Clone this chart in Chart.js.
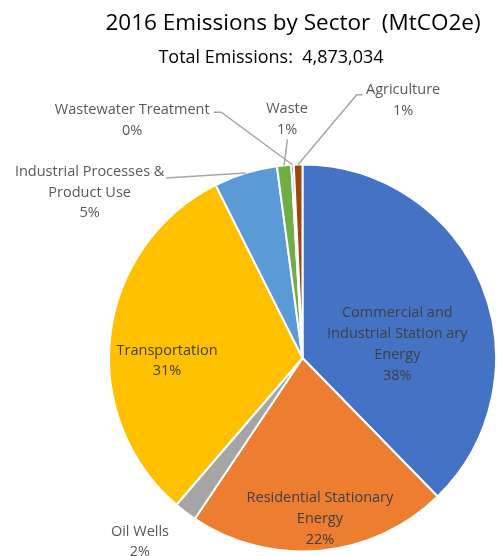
<!DOCTYPE html>
<html>
<head>
<meta charset="utf-8">
<script src="https://cdn.jsdelivr.net/npm/chart.js@4"></script>
<style>
  body { margin: 0; background: #fff; }
  canvas { display: block; }
</style>
</head>
<body>
<canvas id="pie" width="497" height="556"></canvas>
<script>
// data (MtCO2e)
const sectors = ['Commercial and Industrial Stationary Energy', 'Residential Stationary Energy', 'Oil Wells',
  'Transportation', 'Industrial Processes & Product Use', 'Waste', 'Wastewater Treatment', 'Agriculture'];
const emissions = [1837000, 1057000, 93000, 1525000, 258000, 58000, 10000, 35000];
const labelLines = [
  ['Commercial and', 'Industrial Station ary', 'Energy'],
  ['Residential Stationary', 'Energy'],
  ['Oil Wells'],
  ['Transportation'],
  ['Industrial Processes &', 'Product Use'],
  ['Waste'],
  ['Wastewater Treatment'],
  ['Agriculture']
];
const colors = ['#4472C4', '#ED7D31', '#A5A5A5', '#FFC000', '#5B9BD5', '#70AD47', '#264478', '#9E480E'];
const totalEmissions = 4873034;

const font = '"Open Sans", "Noto Sans", sans-serif';

// where each label sits, in units of the radius from the pie centre
const labelPos = [
  { dx: 0.49, dy: -0.07, inside: true },
  { dx: 0.09, dy: 0.83, inside: true },
  { dx: -0.84, dy: 0.95 },
  { dx: -0.70, dy: 0.015, inside: true },
  { dx: -1.10, dy: -0.855, lead: { x: -0.705, y: -0.93 } },
  { dx: -0.08, dy: -1.235, lead: { x: -0.078, y: -1.13 } },
  { dx: -0.88, dy: -1.23, lead: { x: -0.46, y: -1.27 }, elbow: 0.04 },
  { dx: 0.52, dy: -1.33, lead: { x: 0.31, y: -1.36 }, elbow: -0.03 }
];

const headerPlugin = {
  id: 'header',
  afterDraw(chart) {
    const ctx = chart.ctx;
    ctx.save();
    ctx.fillStyle = '#000';
    ctx.textAlign = 'center';
    ctx.textBaseline = 'middle';
    ctx.font = '22.5px ' + font;
    ctx.fillText('2016 Emissions by Sector  (MtCO2e)', 293, 24);
    ctx.font = '18px ' + font;
    ctx.fillText('Total Emissions:  ' + totalEmissions.toLocaleString('en-US'), 271, 58);
    ctx.restore();
  }
};

const sliceLabels = {
  id: 'sliceLabels',
  afterDatasetsDraw(chart) {
    const ctx = chart.ctx;
    const arcs = chart.getDatasetMeta(0).data;
    const total = emissions.reduce((a, b) => a + b, 0);
    ctx.save();
    arcs.forEach((arc, i) => {
      const { x, y, outerRadius: r, startAngle, endAngle } = arc.getProps(['x', 'y', 'outerRadius', 'startAngle', 'endAngle'], true);
      const p = labelPos[i];
      const lines = labelLines[i].concat([Math.round(emissions[i] / total * 100) + '%']);
      const cx = x + p.dx * r;
      const cy = y + p.dy * r;
      const lh = 20.8;
      if (p.lead) {
        const mid = (startAngle + endAngle) / 2;
        const ex = x + Math.cos(mid) * r;
        const ey = y + Math.sin(mid) * r;
        const sx = x + p.lead.x * r;
        const sy = y + p.lead.y * r;
        ctx.strokeStyle = '#A6A6A6';
        ctx.lineWidth = 1.5;
        ctx.beginPath();
        ctx.moveTo(sx, sy);
        if (p.elbow) {
          ctx.lineTo(sx + p.elbow * r, sy);
          ctx.lineTo(ex, ey);
        } else {
          ctx.lineTo(ex, ey);
        }
        ctx.stroke();
      }
      ctx.fillStyle = p.inside ? '#404040' : '#595959';
      ctx.font = '14.5px ' + font;
      ctx.textAlign = 'center';
      ctx.textBaseline = 'middle';
      const top = cy - (lines.length - 1) * lh / 2;
      lines.forEach((t, k) => ctx.fillText(t, cx, top + k * lh));
    });
    ctx.restore();
  }
};

new Chart(document.getElementById('pie'), {
  type: 'pie',
  data: {
    labels: sectors,
    datasets: [{
      data: emissions,
      backgroundColor: colors,
      borderColor: '#fff',
      borderWidth: 2
    }]
  },
  options: {
    responsive: false,
    animation: false,
    layout: { padding: { left: 108, top: 163, right: 0, bottom: 3 } },
    plugins: {
      legend: { display: false },
      tooltip: { enabled: false }
    }
  },
  plugins: [headerPlugin, sliceLabels]
});
</script>
</body>
</html>
